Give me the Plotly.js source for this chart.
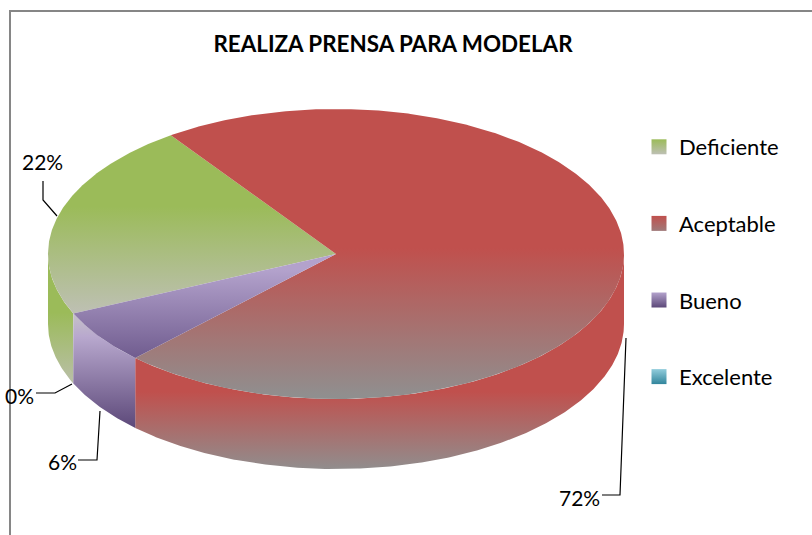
<!DOCTYPE html>
<html><head><meta charset="utf-8">
<script src="https://cdn.plot.ly/plotly-3.0.1.min.js"></script>
<style>html,body{margin:0;padding:0;background:#fff}#c{width:812px;height:535px}</style>
</head><body><div id="c"></div>
<script>
const categories = ["Deficiente","Aceptable","Bueno","Excelente"];
const percents = [22,72,6,0];
const chartTitle = "REALIZA PRENSA PARA MODELAR";
const firstAngle = 245.8;
const cx = 336, cy = 254, rx = 288, ry = 145, depth = 70;

const topStops = [
  [[0,"#9BBB59"],[0.40,"#9BBB59"],[1,"#BEC0B4"]],
  [[0,"#C0504D"],[0.48,"#C0504D"],[1,"#8F9090"]],
  [[0,"#B3A2CC"],[1,"#705C8F"]],
  [[0,"#92CDDC"],[1,"#31859C"]]
];
const topRange = [[135,314],[109,399],[270,358],[254,314]];
const wallStops = [
  [[0,"#9BBB59"],[0.45,"#9BBB59"],[1,"#BABFA9"]],
  [[0,"#C0504D"],[0.64,"#C0504D"],[1,"#918D8D"]],
  [[0,"#C6C2C8"],[0.2,"#B8A8CE"],[1,"#5C4879"]],
  [[0,"#92CDDC"],[1,"#31859C"]]
];
const wallRange = [[254,384],[254,469],[314,428],[314,384]];
const keyTop = ["#9BBB59","#C0504D","#B3A2CC","#92CDDC"];
const keyBottom = ["#BEC0B4","#A07A7A","#5C4879","#31859C"];

const rad = d => d*Math.PI/180;
const px = a => cx + rx*Math.sin(rad(a));
const py = a => cy - ry*Math.cos(rad(a));

let a = firstAngle;
const spans = percents.map(p => { const s=[a,a+p*3.6]; a+=p*3.6; return s; });

const walls = [], tops = [], keys = [];
percents.forEach((p,i) => {
  const [a0,a1] = spans[i];
  if (p<=0) return;
  [0,360].forEach(off => {
    const lo = Math.max(a0,90+off), hi = Math.min(a1,270+off);
    if (hi<=lo) return;
    const xs=[],ys=[];
    for(let t=lo;t<=hi;t+=0.5){xs.push(px(t));ys.push(py(t));}
    xs.push(px(hi));ys.push(py(hi));
    for(let t=hi;t>=lo;t-=0.5){xs.push(px(t));ys.push(py(t)+depth);}
    xs.push(px(lo));ys.push(py(lo)+depth);
    walls.push({x:xs,y:ys,mode:"lines",fill:"toself",line:{width:0},showlegend:false,hoverinfo:"skip",
      fillgradient:{type:"vertical",colorscale:wallStops[i],start:wallRange[i][0],stop:wallRange[i][1]}});
  });
  const xs=[cx],ys=[cy];
  for(let t=a0;t<=a1;t+=0.5){xs.push(px(t));ys.push(py(t));}
  xs.push(px(a1),cx);ys.push(py(a1),cy);
  tops.push({x:xs,y:ys,mode:"lines",fill:"toself",line:{width:0},showlegend:false,hoverinfo:"skip",
    fillgradient:{type:"vertical",colorscale:topStops[i],start:topRange[i][0],stop:topRange[i][1]}});
});
categories.forEach((c,i) => {
  keys.push({x:[null],y:[null],name:c,legendgroup:c,mode:"markers",hoverinfo:"skip",
    marker:{symbol:"square",size:15,color:keyTop[i],gradient:{type:"vertical",color:keyBottom[i]},line:{width:0}}});
});

const labelPos = [[42,161],[579,497],[62,461],[19,395]];
const leaders = [
  "M43,181 L43,200 L57,216",
  "M602,495 L620,495 L626,338",
  "M78,460 L97,460 L100,411",
  "M36,393 L55,393 L72,384"
];
const font = "Lato, 'Open Sans', sans-serif";
const annotations = percents.map((p,i)=>({
  xref:"x",yref:"y",x:labelPos[i][0],y:labelPos[i][1],text:p+"%",showarrow:false,
  font:{family:font,size:21,color:"#000"},xanchor:"center",yanchor:"middle"
}));
const shapes = [
  {type:"path",path:"M10,536 L10,11 L813,11",line:{color:"#868686",width:2},layer:"below"},
  ...leaders.map(d=>({type:"path",path:d,line:{color:"#000",width:1.2}}))
];
Plotly.newPlot("c",[...walls,...tops,...keys],{
  width:812,height:535,margin:{l:0,r:0,t:0,b:0},
  paper_bgcolor:"#fff",plot_bgcolor:"#fff",
  title:{text:"<b>"+chartTitle+"</b>",x:393/812,xanchor:"center",y:1-44/535,yanchor:"middle",
    font:{family:font,size:22.4,color:"#000"}},
  xaxis:{range:[0,812],visible:false,fixedrange:true},
  yaxis:{range:[535,0],visible:false,fixedrange:true},
  showlegend:true,
  legend:{x:639/812,xanchor:"left",y:1-126/535,yanchor:"top",tracegroupgap:45,bgcolor:"rgba(0,0,0,0)",
    font:{family:font,size:22,color:"#000"},itemclick:false,itemdoubleclick:false},
  annotations,shapes
},{displayModeBar:false,staticPlot:false});
</script></body></html>
